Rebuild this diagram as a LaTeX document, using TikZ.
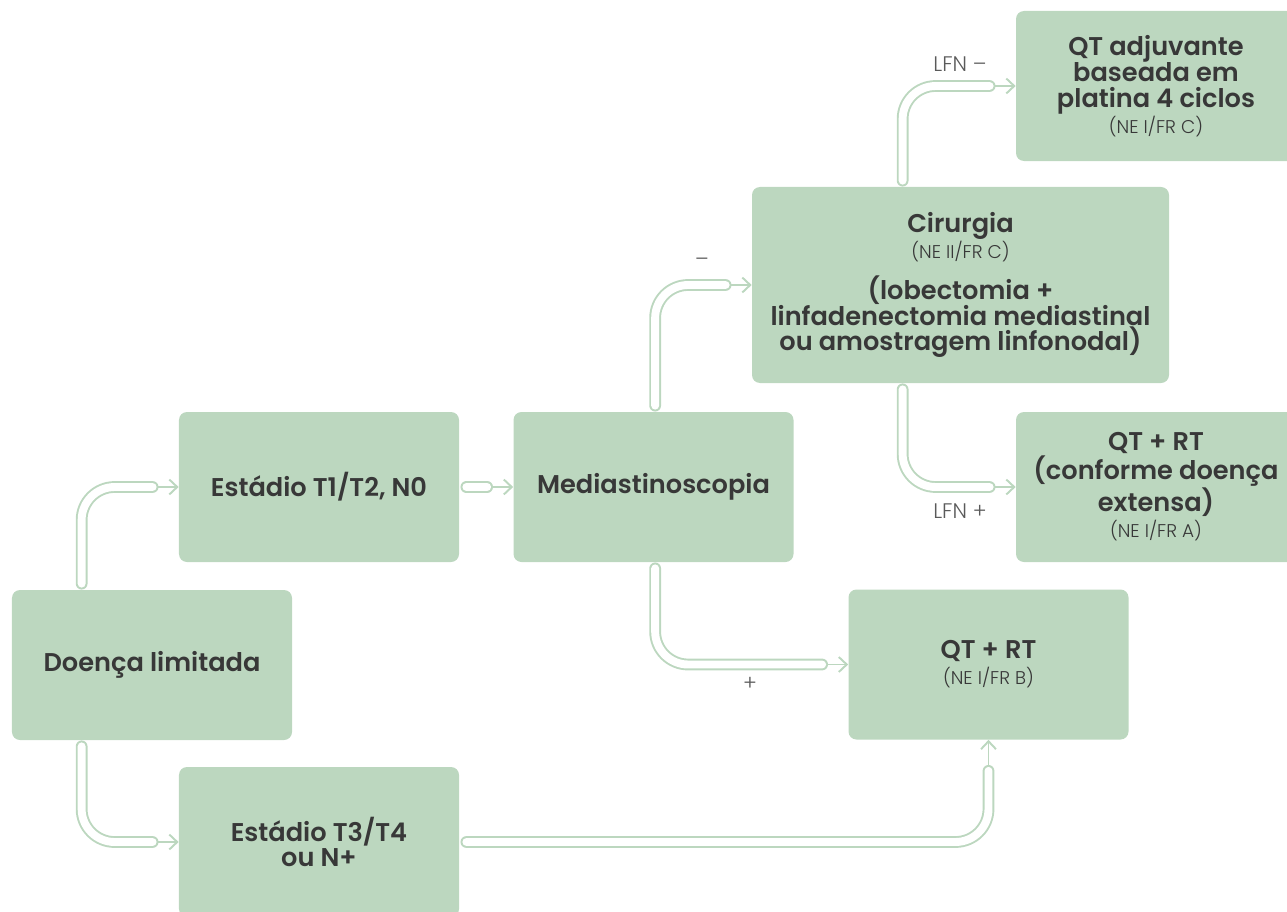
\documentclass[tikz,border=0pt]{standalone}
\usepackage{fontspec}
\setmainfont{Poppins}[BoldFont=* SemiBold]
\newfontfamily\lightfont{Poppins}[UprightFont=* Light]
\usepackage{tikz}
\usetikzlibrary{arrows.meta,positioning}
\definecolor{boxgreen}{HTML}{BCD7BF}
\definecolor{pipegreen}{HTML}{BCD7BF}
\definecolor{textgray}{HTML}{383838}
\definecolor{labelgray}{HTML}{5A5A5A}
\newcommand{\nivel}[1]{{\lightfont\mdseries\fontsize{10.5}{11}\selectfont #1}}

\begin{document}
\begin{tikzpicture}[x=0.2mm,y=-0.2mm,
  box/.style={fill=boxgreen,rounded corners=1.6mm,align=center,inner sep=0pt,
              minimum width=56mm,minimum height=30mm,text=textgray,
              font=\fontsize{14.6}{14.7}\selectfont\bfseries},
  bigbox/.style={box,minimum width=83.4mm,minimum height=39.2mm},
  pipe/.style={draw=pipegreen,double=white,double distance=4.5pt,line width=1.1pt,
               line cap=round,rounded corners=6.6mm},
  tip/.style={draw=pipegreen,line width=1.1pt,-{Straight Barb[length=4.5pt,width=8.5pt]}},
  lbl/.style={text=labelgray,font=\lightfont\fontsize{12}{13}\selectfont}
]
\clip (0,0) rectangle (1287,912);

% Disease stage boxes.
\node[box] (doenca) at (152,665) {Doença limitada};
\node[box] (estA) at (319,487) {Estádio T1/T2, N0};
\node[box] (estB) at (319,842) {Estádio T3/T4\\ou N+};

% Staging and surgery.
\node[bigbox] (cir) at (960.5,285)
  {Cirurgia\\\nivel{(NE II/FR C)}\\[7pt]
   (lobectomia +\\linfadenectomia mediastinal\\ou amostragem linfonodal)};
\node[box] (med) at (653.5,487) {Mediastinoscopia};

% Treatment outcomes.
\node[box] (qtadj) at (1156,86)
  {QT adjuvante\\baseada em\\platina 4 ciclos\\\nivel{(NE I/FR C)}};
\node[box] (qtc) at (1156,487)
  {QT + RT\\(conforme doença\\extensa)\\\nivel{(NE I/FR A)}};
\node[box] (qtb) at (988.5,664.5) {QT + RT\\\nivel{(NE I/FR B)}};

% Connector ends before the arrow tips.
\coordinate (eA) at ([xshift=-5.2mm]estA.west);
\coordinate (eB) at ([xshift=-5.2mm]estB.west);
\coordinate (eM) at ([xshift=-5.2mm]med.west);
\coordinate (eC) at ([xshift=-5.2mm]cir.west);
\coordinate (eQB) at ([xshift=-5.2mm]qtb.west);
\coordinate (eQA) at ([xshift=-5.2mm]qtadj.west);
\coordinate (eQC) at ([xshift=-5.2mm]qtc.west);
\coordinate (eUp) at ([yshift=-6.2mm]qtb.south);

% Thin arrow tips (drawn under the pipes).
\draw[tip] (eA) -- (estA.west);
\draw[tip] (eB) -- (estB.west);
\draw[tip] (eM) -- (med.west);
\draw[tip] (eC) -- (cir.west);
\draw[tip] (eQB) -- (qtb.west);
\draw[tip] (eQA) -- (qtadj.west);
\draw[tip] (eQC) -- (qtc.west);
\draw[tip] (eUp) -- (qtb.south);

% Pipes.
\draw[pipe] ([shift={(14mm,1.2mm)}]doenca.north west) |- (eA);
\draw[pipe] ([shift={(14mm,-1.2mm)}]doenca.south west) |- (eB);
\draw[pipe] ([xshift=1.4mm]estA.east) -- (eM);
\draw[pipe] ([shift={(28.4mm,1.2mm)}]med.north west) |- (eC);
\draw[pipe] ([shift={(28.4mm,-1.2mm)}]med.south west) |- (eQB);
\draw[pipe] ([shift={(30.2mm,1.2mm)}]cir.north west) |- (eQA);
\draw[pipe] ([shift={(30.2mm,-1.2mm)}]cir.south west) |- (eQC);
\draw[pipe] ([xshift=1.4mm]estB.east) -| (eUp);

% Labels.
\node[lbl] (lmenos) at (702,262) {–};
\node[lbl] (lmais) at (750,684) {+};
\node[lbl] (lfnm) at (960,64) {LFN –};
\node[lbl] (lfnp) at (960,511) {LFN +};
\end{tikzpicture}
\end{document}
